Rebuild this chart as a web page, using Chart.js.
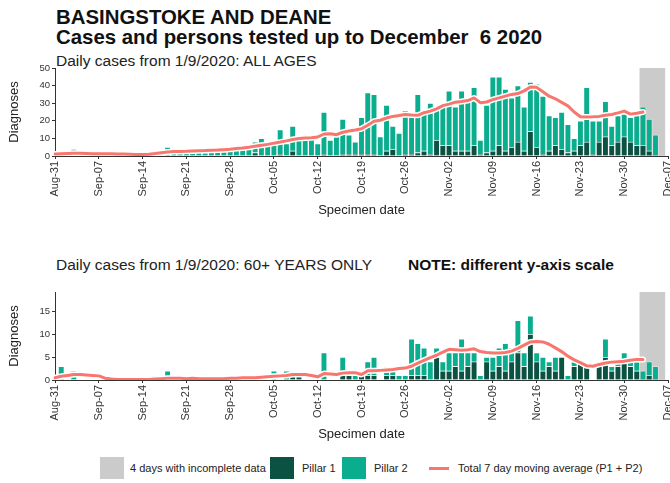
<!DOCTYPE html>
<html>
<head>
<meta charset="utf-8">
<script src="https://cdn.jsdelivr.net/npm/chart.js@4.4.0/dist/chart.umd.min.js"></script>
<style>
  body { margin: 0; background: #fff; width: 670px; height: 483px; overflow: hidden; position: relative;
         font-family: "Liberation Sans", Arial, sans-serif; color: #111; }
  .t { position: absolute; white-space: pre; }
  canvas { position: absolute; left: 0; }
  .box { position: absolute; width: 24px; height: 22px; }
  .lg { position: absolute; font-size: 11px; color: #222; white-space: pre; }
</style>
</head>
<body>
<div class="t" style="left:56px; top:6px; font-size:20.4px; font-weight:bold;">BASINGSTOKE AND DEANE</div>
<div class="t" style="left:56px; top:26px; font-size:20.4px; font-weight:bold;">Cases and persons tested up to December  6 2020</div>
<div class="t" style="left:56px; top:52px; font-size:15.5px; color:#222;">Daily cases from 1/9/2020: ALL AGES</div>
<div class="t" style="left:56px; top:256px; font-size:15.5px; color:#222;">Daily cases from 1/9/2020: 60+ YEARS ONLY</div>
<div class="t" style="left:408px; top:256px; font-size:15.5px; font-weight:bold; color:#111;">NOTE: different y-axis scale</div>

<canvas id="top" width="670" height="158" style="top:60px"></canvas>
<canvas id="bottom" width="670" height="158" style="top:284px"></canvas>

<div class="box" style="left:100px; top:457px; background:#cbcbcb;"></div>
<div class="lg" style="left:130px; top:462px;">4 days with incomplete data</div>
<div class="box" style="left:270px; top:457px; background:#0c5242;"></div>
<div class="lg" style="left:302px; top:462px;">Pillar 1</div>
<div class="box" style="left:342px; top:457px; background:#0aae8e;"></div>
<div class="lg" style="left:374px; top:462px;">Pillar 2</div>
<div style="position:absolute; left:429px; top:467px; width:20px; height:3px; background:#f8766d;"></div>
<div class="lg" style="left:458px; top:462px;">Total 7 day moving average (P1 + P2)</div>

<script>
// dates on the axis: Aug-31 .. Dec-07 (data from Sep-01 to Dec-06)
var months = ['Jan','Feb','Mar','Apr','May','Jun','Jul','Aug','Sep','Oct','Nov','Dec'];
var dates = [];
for (var d = new Date(2020, 7, 31); d <= new Date(2020, 11, 7); d.setDate(d.getDate() + 1)) {
  dates.push(months[d.getMonth()] + '-' + String(d.getDate()).padStart(2, '0'));
}
var incompleteDays = ['Dec-03', 'Dec-04', 'Dec-05', 'Dec-06'];

// ALL AGES, Sep-01 .. Dec-06
var allPillar1 = [
  0,0,0,0,0,0,0,0,0,0,  0,0,0,0,0,0,0,0,0,0,  0,0,0,0,0,0,0,0,0,0,
  0,2,0,0,0,1,0,3,0,0,  0,0,1,0,0,1,1,1,1,1,  1,0,3,4,0,1,1,2,3,1,
  9,6,6,3,3,3,6,1,2,3,  6,3,5,8,3,14,5,1,3,6, 4,2,3,6,8,1,8,11,6,8,
  11,8,6,6,3,0,0];
var allPillar2 = [
  3,1,4,1,1,1,1,1,3,1,  1,1,0,1,1,2,1,5,2,2,  2,2,3,2,4,5,3,3,6,6,
  5,6,10,6,7,14,7,14,10,11,  11,7,24,9,11,20,11,7,21,35,  34,11,26,13,13,25,23,33,21,29,
  18,22,31,25,34,29,33,8,27,42,  39,35,28,32,25,28,36,33,20,16,  21,16,7,14,31,19,12,20,11,15,
  13,14,17,22,18,12,0];
// 7 day moving average, Aug-31 .. Dec-04
var allAvg = [
  1.2,1.3,1.4,1.5,1.5,1.4,1.3,1.3,1.3,1.3,  1.2,1.1,1.0,0.9,0.9,1.0,1.4,1.9,2.3,2.5,
  2.6,2.7,2.9,3.0,3.1,3.3,3.4,3.6,3.8,4.3,  4.6,5.0,5.6,6.1,6.6,7.3,7.9,8.6,9.4,10.0,
  10.2,10.4,10.8,12.5,12.6,12.1,13.5,14.2,14.8,15.5,  17.5,19.7,20.3,21.6,22.5,23.0,23.6,23.3,23.1,24.6,
  25.5,26.8,28.6,29.5,30.6,31.0,31.5,33.0,30.3,30.7,  32.0,33.0,34.0,35.0,35.5,37.0,39.2,39.0,36.5,34.0,
  32.5,30.5,28.5,25.0,22.3,22.2,22.3,22.5,23.2,23.6,  24.5,25.5,23.8,24.3,25.0];

// 60+ YEARS, Sep-01 .. Dec-06
var oldPillar1 = [
  0,0,0,0,0,0,0,0,0,0,  0,0,0,0,0,0,0,0,0,0,  0,0,0,0,0,0,0,0,0,0,
  0,0,0,0,0,0,0,1,1,0,  0,0,0,0,0,1,1,0,1,1,  1,0,1,1,0,0,1,1,1,0,
  5,2,2,3,2,3,4,0,4,2,  3,2,4,6,3,10,4,2,3,2,  5,0,3,4,3,0,3,5,2,3,
  4,3,2,0,1,0,0];
var oldPillar2 = [
  3,0,2,0,0,0,0,0,0,0,  0,0,0,0,0,1,0,2,0,0,  0,0,0,0,0,0,0,1,0,0,
  0,0,0,0,2,0,2,0,0,0,  0,0,6,0,0,4,0,1,0,3,  4,0,2,1,1,1,8,7,6,4,
  2,2,4,3,7,3,2,1,1,3,  4,6,3,7,3,4,2,3,1,3,  0,1,1,0,0,0,0,4,1,1,
  2,2,2,2,3,3,0];
var oldAvg = [
  0.5,0.8,1.0,1.2,1.2,1.1,1.0,0.9,0.4,0.2,  0.1,0.1,0.1,0.1,0.1,0.1,0.2,0.3,0.4,0.4,
  0.4,0.3,0.4,0.3,0.3,0.3,0.3,0.3,0.4,0.4,  0.5,0.5,0.5,0.6,0.7,0.8,0.9,1.0,1.2,1.2,
  1.2,1.0,0.7,1.4,1.3,1.2,1.5,1.6,1.6,1.2,  2.0,2.0,2.1,2.2,2.3,2.5,2.6,3.0,3.7,4.3,
  4.9,5.4,6.1,6.7,6.6,6.5,6.6,6.8,6.2,6.0,  5.9,5.9,6.0,6.3,6.9,7.6,8.3,8.4,8.3,7.8,
  7.0,6.2,5.2,4.4,3.8,3.1,3.0,3.4,3.7,3.9,  4.0,4.1,4.3,4.5,4.5];

var FONT = '"Liberation Sans", Arial, sans-serif';

function padDays(arr) { // Sep-01..Dec-06 -> Aug-31..Dec-07
  var out = [null].concat(arr);
  while (out.length < dates.length) out.push(null);
  return out;
}

function makeChart(id, p1, p2, avg, yMax, step) {
  var grey = dates.map(function (lab) { return incompleteDays.indexOf(lab) >= 0 ? yMax : null; });
  var line = avg.slice();
  while (line.length < dates.length) line.push(null);

  return new Chart(document.getElementById(id), {
    type: 'bar',
    data: {
      labels: dates,
      datasets: [
        { type: 'line', data: line, borderColor: '#f8766d', borderWidth: 3, pointRadius: 0,
          stack: 'l1', order: 0, borderJoinStyle: 'round', borderCapStyle: 'round' },
        { type: 'line', data: line, borderColor: '#ffffff', borderWidth: 6, pointRadius: 0,
          stack: 'l2', order: 1, borderJoinStyle: 'round', borderCapStyle: 'round' },
        { label: 'Pillar 1', data: padDays(p1), backgroundColor: '#0c5242', stack: 'p', order: 2,
          borderColor: 'rgba(255,255,255,0.35)', borderWidth: 1, barPercentage: 1, categoryPercentage: 1 },
        { label: 'Pillar 2', data: padDays(p2), backgroundColor: '#0aae8e', stack: 'p', order: 2,
          borderColor: 'rgba(255,255,255,0.35)', borderWidth: 1, barPercentage: 1, categoryPercentage: 1 },
        { label: 'incomplete', data: grey, backgroundColor: '#cbcbcb', stack: 'g', order: 3,
          grouped: false, barPercentage: 1, categoryPercentage: 1 }
      ]
    },
    options: {
      responsive: false,
      animation: false,
      layout: { padding: { top: 8, right: 2, bottom: 0, left: 0 } },
      plugins: { legend: { display: false }, tooltip: { enabled: false } },
      scales: {
        x: {
          type: 'category',
          stacked: true,
          offset: false,
          grid: { display: true, drawOnChartArea: false, drawTicks: true, tickLength: 3, offset: false,
                  tickColor: function (c) { return c.index % 7 === 0 ? '#333' : 'rgba(0,0,0,0)'; } },
          border: { display: true, color: '#333', width: 1 },
          ticks: {
            autoSkip: false, minRotation: 90, maxRotation: 90, padding: 2,
            color: '#333', font: { family: FONT, size: 11 },
            callback: function (v, i) { return i % 7 === 0 ? this.getLabelForValue(v) : ''; }
          },
          title: { display: true, text: 'Specimen date', color: '#222',
                   font: { family: FONT, size: 13 }, padding: { top: 0, bottom: 0 } },
          afterFit: function (s) { s.height = 62; s.paddingLeft = 0; s.paddingRight = 0; }
        },
        y: {
          stacked: true,
          min: 0, max: yMax,
          grid: { display: true, drawOnChartArea: false, drawTicks: true, tickLength: 3, tickColor: '#333' },
          border: { display: true, color: '#333', width: 1 },
          ticks: { stepSize: step, includeBounds: false, padding: 2, color: '#333',
                   font: { family: FONT, size: 9.5 } },
          title: { display: true, text: 'Diagnoses', color: '#222',
                   font: { family: FONT, size: 13 }, padding: { top: 7, bottom: 0 } },
          afterFit: function (s) { s.width = 55; s.paddingTop = 0; s.paddingBottom = 0; }
        }
      }
    }
  });
}

makeChart('top', allPillar1, allPillar2, allAvg, 50, 10);
makeChart('bottom', oldPillar1, oldPillar2, oldAvg, 19.2, 5);
</script>
</body>
</html>
